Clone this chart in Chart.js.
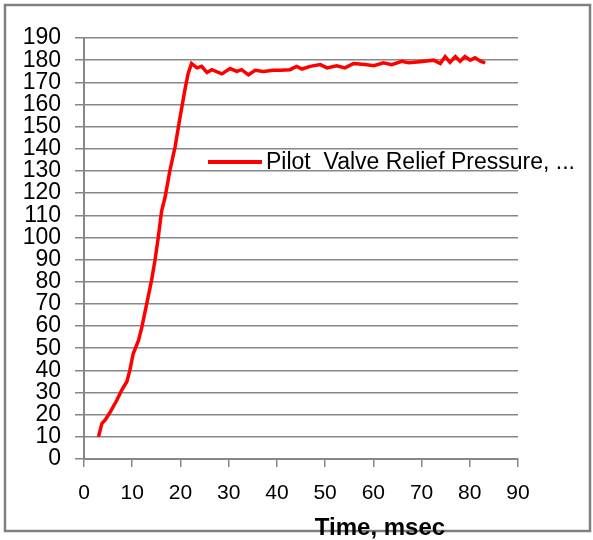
<!DOCTYPE html>
<html>
<head>
<meta charset="utf-8">
<script src="https://cdn.jsdelivr.net/npm/chart.js@4.4.1/dist/chart.umd.min.js"></script>
<style>
  html, body { margin: 0; padding: 0; background: #fff; }
  #wrap { position: relative; width: 593px; height: 540px; }
</style>
</head>
<body>
<div id="wrap"><canvas id="chart" width="593" height="540"></canvas></div>
<script>
// values
const timeMs = [
  3.0, 3.7, 4.4, 5.4, 6.8, 7.8, 8.9, 9.5, 10.2, 11.3, 12.0, 13.0, 14.0, 14.7, 15.4, 16.1,
  16.8, 17.8, 18.9, 19.9, 21.0, 21.6, 22.3, 23.4, 24.4, 25.5, 26.5, 28.6, 30.3, 31.7,
  32.7, 34.1, 35.5, 37.2, 39.3, 40.7, 42.7, 44.1, 45.2, 46.9, 49.0, 50.4, 52.4, 54.1,
  55.9, 58.3, 60.1, 62.1, 63.8, 65.9, 67.3, 69.7, 72.5, 73.9, 74.9, 75.9, 77.0, 78.0,
  79.0, 80.1, 81.1, 82.2, 83.2
];
const pressure = [
  10, 16, 17.6, 21, 26.5, 31, 35, 40, 47.5, 53.5, 59.5, 70, 80.5, 89.5, 100, 112,
  118, 130, 141, 154, 167.5, 174, 178.5, 176.5, 177.2, 174.4, 175.7, 173.8, 176.2, 174.9,
  175.7, 173.4, 175.4, 174.9, 175.4, 175.4, 175.7, 177.2, 176, 177.2, 178, 176.5, 177.5, 176.5,
  178.5, 178, 177.5, 178.8, 178, 179.5, 178.8, 179.3, 180, 178.5, 181.6, 179, 181.6, 179.5,
  181.6, 180, 181.1, 179.5, 178.8
];
const seriesLabel = 'Pilot  Valve Relief Pressure, ...';
const xTitle = 'Time, msec';

const font = "'Liberation Sans', Arial, sans-serif";
const gridGray = '#878787';

const framePlugin = {
  id: 'frame',
  beforeDraw(chart) {
    const ctx = chart.ctx;
    ctx.save();
    ctx.fillStyle = '#fff';
    ctx.fillRect(0, 0, chart.width, chart.height);
    ctx.strokeStyle = '#808080';
    ctx.lineWidth = 2.5;
    ctx.strokeRect(5, 5, 585, 526);
    ctx.restore();
  },
  afterDraw(chart) {
    const ctx = chart.ctx;
    const ds = chart.data.datasets[0];
    const a = chart.chartArea;
    ctx.save();
    // legend inside the plot
    const ly = 162;
    ctx.strokeStyle = ds.borderColor;
    ctx.lineWidth = 4;
    ctx.beginPath();
    ctx.moveTo(a.left + 124, ly);
    ctx.lineTo(a.left + 178, ly);
    ctx.stroke();
    ctx.fillStyle = '#000';
    ctx.font = '23px ' + font;
    ctx.textBaseline = 'middle';
    ctx.fillText(ds.label, a.left + 182, ly + 1);
    // axis title, sits over the frame line
    ctx.font = 'bold 24px ' + font;
    ctx.textAlign = 'center';
    ctx.textBaseline = 'alphabetic';
    ctx.fillText(xTitle, 380, 535);
    ctx.restore();
  }
};

new Chart(document.getElementById('chart'), {
  type: 'line',
  data: {
    datasets: [{
      label: seriesLabel,
      data: timeMs.map((t, i) => ({ x: t, y: pressure[i] })),
      borderColor: '#ff0000',
      borderWidth: 3.5,
      pointRadius: 0,
      tension: 0,
    }],
  },
  options: {
    responsive: false,
    animation: false,
    layout: { padding: { left: 0, right: 75, top: 38, bottom: 0 } },
    plugins: { legend: { display: false }, tooltip: { enabled: false } },
    scales: {
      x: {
        type: 'linear',
        min: 0, max: 90,
        afterFit: s => { s.height = 81; },
        ticks: { stepSize: 10, autoSkip: false, color: '#000', font: { family: font, size: 21 }, padding: 14, maxRotation: 0 },
        grid: { drawOnChartArea: false, color: gridGray, lineWidth: 1.5, tickLength: 8 },
        border: { color: gridGray, width: 2 },
      },
      y: {
        min: 0, max: 190,
        afterFit: s => { s.width = 84; },
        ticks: { stepSize: 10, autoSkip: false, color: '#000', font: { family: font, size: 23 }, padding: 14 },
        grid: { color: gridGray, lineWidth: 1.5, tickLength: 9 },
        border: { color: gridGray, width: 2 },
      },
    },
  },
  plugins: [framePlugin],
});
</script>
</body>
</html>
